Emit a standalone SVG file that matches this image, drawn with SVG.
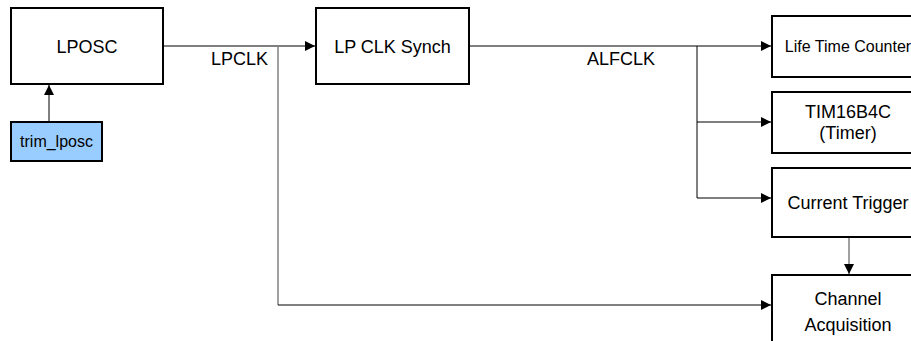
<svg xmlns="http://www.w3.org/2000/svg" width="911" height="341" viewBox="0 0 911 341">
<style>
.box{fill:#fff;stroke:#000;stroke-width:2}
.blue{fill:#99ccff;stroke:#000;stroke-width:2}
.t{font-family:"Liberation Sans",Arial,sans-serif;font-size:18px;fill:#000;text-anchor:middle}
.s{font-size:16px}
.w{fill:none;stroke:#000;stroke-width:1}
.g{fill:none;stroke:#808080;stroke-width:1.5}
</style>
<defs>
<marker id="ah" viewBox="0 0 10 10" refX="10" refY="5" markerWidth="10" markerHeight="10" markerUnits="userSpaceOnUse" orient="auto">
<path d="M0,0 L10,5 L0,10 Z" fill="#000"/>
</marker>
</defs>
<g id="connectors">
<line class="w" x1="49" y1="122" x2="49" y2="85" marker-end="url(#ah)"/>
<line class="w" x1="163" y1="46" x2="315" y2="46" marker-end="url(#ah)"/>
<polyline class="g" points="278,46 278,305"/>
<line class="w" x1="278" y1="305" x2="771" y2="305" marker-end="url(#ah)"/>
<line class="w" x1="469" y1="46" x2="771" y2="46" marker-end="url(#ah)"/>
<polyline class="w" points="697,46 697,198"/>
<line class="w" x1="697" y1="122" x2="771" y2="122" marker-end="url(#ah)"/>
<line class="w" x1="697" y1="198" x2="771" y2="198" marker-end="url(#ah)"/>
<line class="g" x1="849" y1="237" x2="849" y2="274" marker-end="url(#ah)"/>
<text class="t" x="239.5" y="65">LPCLK</text>
<text class="t" x="621" y="65">ALFCLK</text>
</g>
<g id="lposc"><rect class="box" x="11" y="8" width="152" height="76"/><text class="t" x="87" y="52.5">LPOSC</text></g>
<g id="trim_lposc"><rect class="blue" x="11" y="122" width="91" height="39"/><text class="t s" x="56.5" y="147">trim_lposc</text></g>
<g id="lpclksynch"><rect class="box" x="316" y="8" width="153" height="76"/><text class="t" x="392.5" y="52.5">LP CLK Synch</text></g>
<g id="lifetime"><rect class="box" x="772" y="16" width="152" height="61"/><text class="t s" x="848" y="52">Life Time Counter</text></g>
<g id="tim16b4c"><rect class="box" x="772" y="92" width="152" height="61"/><text class="t" x="848" y="118">TIM16B4C</text><text class="t" x="848" y="139">(Timer)</text></g>
<g id="currenttrigger"><rect class="box" x="772" y="168" width="152" height="69"/><text class="t" x="848" y="208.5">Current Trigger</text></g>
<g id="channelacq"><rect class="box" x="772" y="275" width="152" height="76"/><text class="t" x="848" y="305">Channel</text><text class="t" x="848" y="331">Acquisition</text></g>
</svg>
